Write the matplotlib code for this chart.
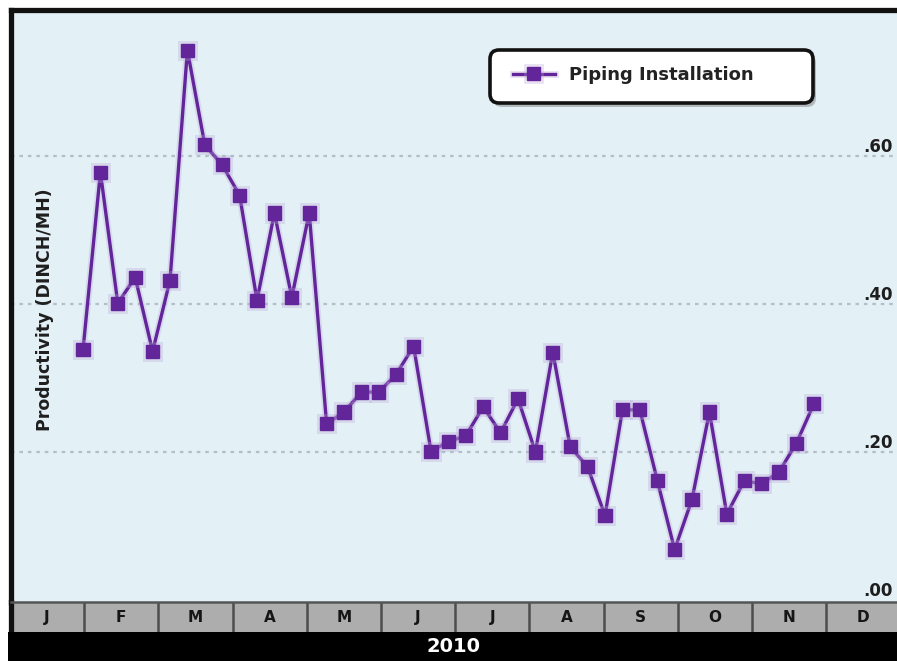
import matplotlib
matplotlib.use("Agg")
import matplotlib.pyplot as plt
import matplotlib.patheffects as pe
from matplotlib.patches import FancyBboxPatch
from matplotlib.transforms import IdentityTransform, blended_transform_factory

# ---- data ----
weeks = list(range(1, 44))
productivity = [0.338, 0.578, 0.401, 0.436, 0.336, 0.432, 0.743, 0.615, 0.588, 0.547,
                0.405, 0.523, 0.409, 0.523, 0.238, 0.254, 0.281, 0.281, 0.305, 0.343,
                0.201, 0.214, 0.222, 0.261, 0.226, 0.272, 0.200, 0.335, 0.207, 0.180,
                0.114, 0.257, 0.257, 0.162, 0.068, 0.136, 0.254, 0.116, 0.161, 0.157,
                0.173, 0.212, 0.265]
months = ["J", "F", "M", "A", "M", "J", "J", "A", "S", "O", "N", "D"]
yticks = [0.0, 0.2, 0.4, 0.6]
ytick_labels = [".00", ".20", ".40", ".60"]
series_name = "Piping Installation"
year_label = "2010"
ylabel = "Productivity (DINCH/MH)"

W, H = 897, 661
plt.rcParams['font.family'] = ['DejaVu Sans']
fig = plt.figure(figsize=(W / 100, H / 100), dpi=100)
fig.patch.set_facecolor("white")

def fx(px):
    return px / W

def fy(py):
    return (H - py) / H

purple = "#62269a"
bg = "#e3f0f6"

# ---- main plot ----
left_px, right_px, top_px, bot_px = 11, 897, 10, 602
ax = fig.add_axes([fx(left_px), fy(bot_px), fx(right_px - left_px), (bot_px - top_px) / H])
ax.set_facecolor(bg)
ax.set_xlim(-3.138, 47.78)
ax.set_ylim(-0.0027, 0.7973)
for s in ["right", "bottom"]:
    ax.spines[s].set_visible(False)
for s in ["left", "top"]:
    ax.spines[s].set_linewidth(3.8)
    ax.spines[s].set_color("#111111")
ax.set_xticks([])
ax.set_yticks([])

for v in yticks[1:]:
    ax.axhline(v, color="#b3bfc8", lw=1.6, ls=(0, (1.6, 2.2)), zorder=1)

tr = blended_transform_factory(ax.transAxes, ax.transData)
for v, lab in zip(yticks, ytick_labels):
    ax.text(0.9955, v + 0.0055, lab, transform=tr, ha="right", va="baseline",
            fontsize=12, fontweight="bold", color="#1e1e1e")

line, = ax.plot(weeks, productivity, color=purple, lw=2.4, marker="s", markersize=9.5,
                markerfacecolor=purple, markeredgecolor=purple, zorder=3, label=series_name,
                path_effects=[pe.Stroke(linewidth=5, foreground="#b9a3d6", alpha=0.3), pe.Normal()])

fig.text(fx(45), fy(310), ylabel, rotation=90, ha="center", va="center",
         fontsize=12.5, fontweight="bold", color="#1e1e1e")

# ---- legend ----
shadow = FancyBboxPatch((493, H - 107), 323, 53, boxstyle="round,pad=0,rounding_size=9",
                        transform=IdentityTransform(), facecolor="#555555", edgecolor="none",
                        alpha=0.35, zorder=5)
box = FancyBboxPatch((490, H - 103), 323, 53, boxstyle="round,pad=0,rounding_size=9",
                     transform=IdentityTransform(), facecolor="white", edgecolor="#111111",
                     lw=2.6, zorder=6)
fig.add_artist(shadow)
fig.add_artist(box)
leg = fig.legend(handles=[line], labels=[series_name], loc="center left",
                 bbox_to_anchor=(fx(513), fy(75)), bbox_transform=fig.transFigure,
                 frameon=False, borderaxespad=0, borderpad=0, numpoints=1,
                 handlelength=2.3, handletextpad=0.8,
                 prop={"size": 13, "weight": "bold"})
leg.set_zorder(7)
for t in leg.get_texts():
    t.set_color("#222222")

# ---- month band ----
band = fig.add_axes([fx(left_px), fy(632), fx(right_px - left_px), 30 / H])
band.set_facecolor("#adadad")
band.set_xlim((left_px - 10) / 74.2, (right_px - 10) / 74.2)
band.set_ylim(0, 1)
band.set_xticks([])
band.set_yticks([])
for s in ["right", "bottom"]:
    band.spines[s].set_visible(False)
band.spines["left"].set_linewidth(3.8)
band.spines["left"].set_color("#111111")
band.spines["top"].set_linewidth(1.8)
band.spines["top"].set_color("#555555")
for i, m in enumerate(months):
    if i > 0:
        band.axvline(i, color="#4d4d4d", lw=1.8)
    band.text(i + 0.5, 0.47, m, ha="center", va="center", fontsize=11,
              fontweight="bold", color="#151515")

yr = fig.add_axes([fx(8), 0, fx(W - 8), 29 / H])
yr.set_facecolor("black")
yr.set_xticks([])
yr.set_yticks([])
for s in yr.spines.values():
    s.set_visible(False)
fig.text(fx(454), fy(647), year_label, ha="center", va="center", fontsize=14,
         fontweight="bold", color="white")

fig.savefig("out.png", dpi=100, facecolor="white")
